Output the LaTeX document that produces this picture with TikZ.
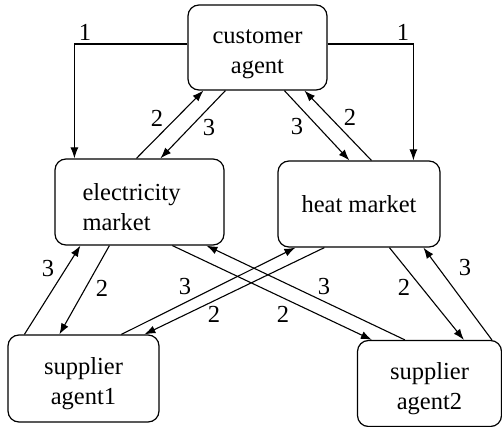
\documentclass[tikz,border=0pt]{standalone}
\usepackage{fontspec}
\setmainfont{Liberation Serif}
\usetikzlibrary{arrows.meta}
\newcommand\dnstrut{\rule{0pt}{27pt}}
\begin{document}
\begin{tikzpicture}[x=1pt,y=-1pt,
  box/.style={draw,line width=1.2pt,rounded corners=11pt,inner sep=0pt,align=center,
    font=\fontsize{24.5}{29.5}\selectfont},
  conn/.style={line width=1.1pt},
  arr/.style={conn,-{Latex[length=11pt,width=8pt]}},
  lbl/.style={inner sep=0pt,font=\fontsize{24.5}{29.5}\selectfont}]
\useasboundingbox (0,0) rectangle (502,427);
\node[box,minimum width=139pt,minimum height=85pt] (cust) at (257.5,47.5) {\dnstrut customer\\agent};
\node[box,minimum width=169pt,minimum height=86pt,align=left] (elec) at (139.5,202) {\dnstrut electricity\hspace*{16pt}\\market};
\node[box,minimum width=162pt,minimum height=86pt] (heat) at (359,204) {heat market};
\node[box,minimum width=151pt,minimum height=87pt] (s1) at (83.5,378.5) {\dnstrut supplier\\agent1};
\node[box,minimum width=144pt,minimum height=86pt] (s2) at (429.5,383.5) {\dnstrut supplier\\agent2};
% step 1
\draw[arr] ([yshift=3.5pt]cust.west) -| ([xshift=20pt]elec.north west);
\draw[arr] ([yshift=3.5pt]cust.east) -| ([xshift=136pt]heat.north west);
% top diagonals
\draw[arr] ([xshift=82pt]elec.north west) -- ([xshift=16pt]cust.south west);
\draw[arr] ([xshift=38pt]cust.south west) -- ([xshift=106pt]elec.north west);
\draw[arr] ([xshift=97pt]cust.south west) -- ([xshift=72pt]heat.north west);
\draw[arr] ([xshift=94pt]heat.north west) -- ([xshift=117pt]cust.south west);
% lower
\draw[arr] ([xshift=17pt]s1.north west) -- ([xshift=26pt]elec.south west);
\draw[arr] ([xshift=55pt]elec.south west) -- ([xshift=52pt]s1.north west);
\draw[arr] ([xshift=114pt]s1.north west) -- ([xshift=18pt]heat.south west);
\draw[arr] ([xshift=47pt]heat.south west) -- ([xshift=137pt]s1.north west);
\draw[arr] ([xshift=118pt]elec.south west) -- ([xshift=15pt]s2.north west);
\draw[arr] ([xshift=48pt]s2.north west) -- ([xshift=152pt]elec.south west);
\draw[arr] ([xshift=112pt]heat.south west) -- ([xshift=107pt]s2.north west);
\draw[arr] ([xshift=135pt]s2.north west) -- ([xshift=146pt]heat.south west);
% labels
\node[lbl] (l1a) at (85,32) {1};
\node[lbl] (l1b) at (403,32) {1};
\node[lbl] (l2a) at (157,118) {2};
\node[lbl] (l3a) at (209,128) {3};
\node[lbl] (l3b) at (297,127) {3};
\node[lbl] (l2b) at (350,117) {2};
\node[lbl] (l3c) at (48,269) {3};
\node[lbl] (l2c) at (102,288) {2};
\node[lbl] (l3d) at (185,287) {3};
\node[lbl] (l2d) at (214,314) {2};
\node[lbl] (l2e) at (283,314) {2};
\node[lbl] (l3e) at (324,287) {3};
\node[lbl] (l2f) at (404,287) {2};
\node[lbl] (l3f) at (465,268) {3};
\end{tikzpicture}
\end{document}
